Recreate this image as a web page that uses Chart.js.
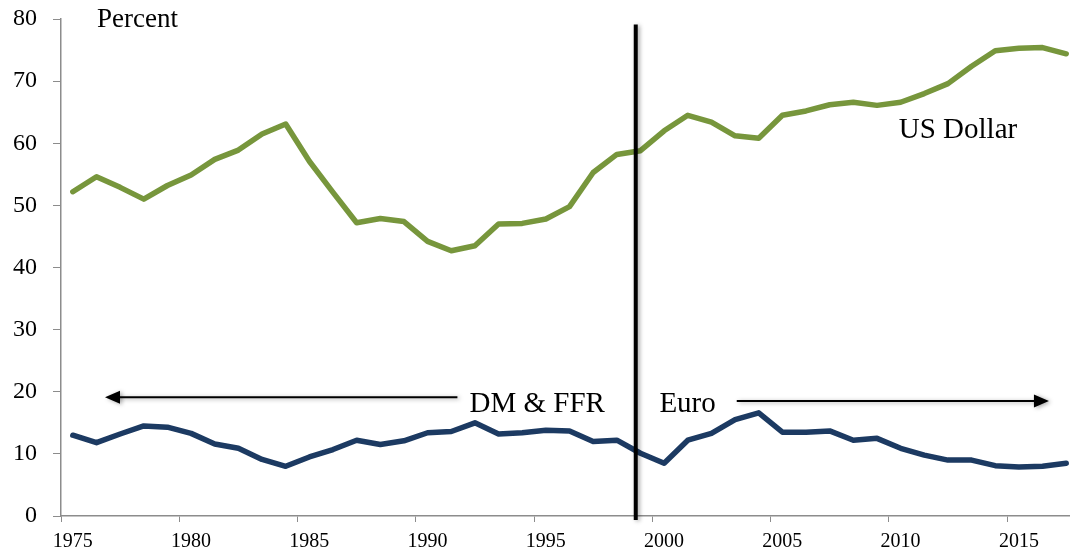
<!DOCTYPE html>
<html>
<head>
<meta charset="utf-8">
<script src="https://cdn.jsdelivr.net/npm/chart.js@4/dist/chart.umd.min.js"></script>
<style>
  html, body { margin: 0; padding: 0; background: #ffffff; }
  #wrap { width: 1070px; height: 556px; position: relative; }
</style>
</head>
<body>
<div id="wrap"><canvas id="c"></canvas></div>
<script>
// ---- data ----
const years = [1975,1976,1977,1978,1979,1980,1981,1982,1983,1984,
               1985,1986,1987,1988,1989,1990,1991,1992,1993,1994,
               1995,1996,1997,1998,1999,2000,2001,2002,2003,2004,
               2005,2006,2007,2008,2009,2010,2011,2012,2013,2014,
               2015,2016,2017];
const usDollar = [52.2,54.6,52.9,51.0,53.2,54.9,57.4,58.9,61.5,63.1,
                  57.1,52.1,47.2,47.9,47.4,44.2,42.7,43.5,47.0,47.1,
                  47.8,49.8,55.3,58.2,58.8,62.0,64.5,63.4,61.2,60.8,
                  64.5,65.2,66.2,66.6,66.1,66.6,68.0,69.6,72.4,74.9,
                  75.3,75.4,74.4];
const dmEuro = [13.0,11.8,13.2,14.5,14.3,13.3,11.6,10.9,9.1,8.0,
                9.5,10.7,12.2,11.5,12.1,13.4,13.6,15.0,13.2,13.4,
                13.8,13.7,12.0,12.2,10.1,8.5,12.2,13.3,15.5,16.6,
                13.5,13.5,13.7,12.2,12.5,10.9,9.8,9.0,9.0,8.1,
                7.9,8.0,8.5];
const xTickYears = [1975,1980,1985,1990,1995,2000,2005,2010,2015];
const yTicks = [0,10,20,30,40,50,60,70,80];
const euroIntro = 1999.3;

const serif = '"Liberation Serif", "Times New Roman", serif';
const axisGray = '#8c8c8c';

const annotate = {
  id: 'annotate',
  afterDatasetsDraw(chart) {
    const ctx = chart.ctx;
    const xs = chart.scales.x, ys = chart.scales.y;
    const px = v => xs.getPixelForValue(v);
    const py = v => ys.getPixelForValue(v);
    ctx.save();
    // vertical line
    ctx.shadowColor = 'rgba(0,0,0,0.35)';
    ctx.shadowBlur = 4;
    ctx.shadowOffsetX = 2;
    ctx.shadowOffsetY = 1;
    ctx.strokeStyle = '#000';
    ctx.lineWidth = 4;
    ctx.beginPath();
    ctx.moveTo(px(euroIntro), py(79.1));
    ctx.lineTo(px(euroIntro), py(0) + 4);
    ctx.stroke();

    // arrows
    function arrow(x0, x1, yv) {
      const a = px(x0), b = px(x1), y = py(yv);
      const dir = Math.sign(b - a);
      ctx.lineWidth = 2;
      ctx.beginPath();
      ctx.moveTo(a, y);
      ctx.lineTo(b - dir * 12, y);
      ctx.stroke();
      ctx.beginPath();
      ctx.moveTo(b, y);
      ctx.lineTo(b - dir * 15, y - 6.5);
      ctx.lineTo(b - dir * 15, y + 6.5);
      ctx.closePath();
      ctx.fillStyle = '#000';
      ctx.fill();
    }
    arrow(1991.76, 1976.86, 19.13);
    arrow(2003.57, 2016.77, 18.53);

    ctx.shadowColor = 'transparent';
    ctx.fillStyle = '#000';
    ctx.textAlign = 'left';
    ctx.textBaseline = 'alphabetic';
    ctx.font = '29px ' + serif;
    ctx.fillText('DM & FFR', px(1992.27), py(16.71));
    ctx.fillText('Euro', px(2000.3), py(16.71));
    ctx.fillText('US Dollar', px(2010.42), py(60.87));
    ctx.font = '27px ' + serif;
    ctx.fillText('Percent', px(1976.52), py(78.73));
    ctx.restore();
  }
};

const mkPoints = arr => arr.map((v, i) => ({ x: years[i] + 0.5, y: v }));

new Chart(document.getElementById('c'), {
  type: 'line',
  data: {
    datasets: [
      { label: 'US Dollar', data: mkPoints(usDollar), borderColor: '#77963c',
        borderWidth: 5.5, pointRadius: 0, tension: 0,
        borderJoinStyle: 'round', borderCapStyle: 'round' },
      { label: 'DM & FFR / Euro', data: mkPoints(dmEuro), borderColor: '#1c3a62',
        borderWidth: 5.5, pointRadius: 0, tension: 0,
        borderJoinStyle: 'round', borderCapStyle: 'round' }
    ]
  },
  options: {
    responsive: true,
    maintainAspectRatio: false,
    animation: false,
    layout: { padding: { top: 19, left: 0, right: 0, bottom: 0 } },
    plugins: { legend: { display: false }, tooltip: { enabled: false } },
    scales: {
      x: {
        type: 'linear',
        min: 1975,
        max: 2017.66,
        afterBuildTicks: s => { s.ticks = xTickYears.map(v => ({ value: v })); },
        afterFit: s => { s.height = 40; s.paddingLeft = 0; s.paddingRight = 0; },
        ticks: {
          autoSkip: false,
          maxRotation: 0,
          labelOffset: 11.8,
          padding: 8,
          color: '#000',
          font: { family: serif, size: 20 },
          callback: v => String(v)
        },
        grid: { drawOnChartArea: false, drawTicks: true, tickLength: 6, color: axisGray },
        border: { color: axisGray, width: 1.5 }
      },
      y: {
        min: 0,
        max: 80,
        afterBuildTicks: s => { s.ticks = yTicks.map(v => ({ value: v })); },
        afterFit: s => { s.width = 61; s.paddingTop = 0; s.paddingBottom = 0; },
        ticks: {
          padding: 16,
          color: '#000',
          font: { family: serif, size: 24 }
        },
        grid: { drawOnChartArea: false, drawTicks: true, tickLength: 8, color: axisGray },
        border: { color: axisGray, width: 1.5 }
      }
    }
  },
  plugins: [annotate]
});
</script>
</body>
</html>
